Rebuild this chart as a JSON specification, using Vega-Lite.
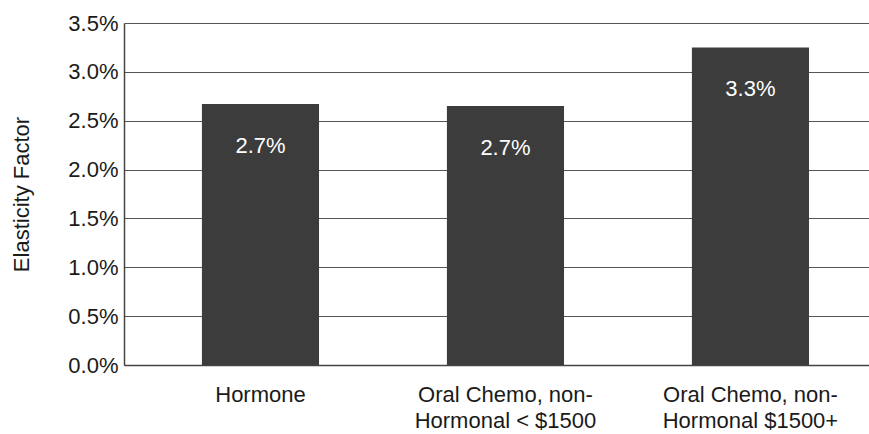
{
  "$schema": "https://vega.github.io/schema/vega-lite/v6.json",
  "width": 745,
  "height": 342,
  "autosize": {"type": "none"},
  "padding": {"left": 124, "top": 23, "right": 0, "bottom": 69},
  "background": "white",
  "config": {
    "view": {"stroke": null},
    "font": "Liberation Sans"
  },
  "data": {
    "values": [
      {"category": "Hormone", "value": 0.0267, "label": "2.7%"},
      {"category": "Oral Chemo, non-|Hormonal < $1500", "value": 0.0265, "label": "2.7%"},
      {"category": "Oral Chemo, non-|Hormonal $1500+", "value": 0.0325, "label": "3.3%"}
    ]
  },
  "encoding": {
    "x": {
      "field": "category",
      "type": "nominal",
      "sort": null,
      "scale": {"paddingInner": 0.522, "paddingOuter": 0.2815, "align": 0.565},
      "axis": {
        "title": null,
        "labelAngle": 0,
        "labelExpr": "split(datum.label, '|')",
        "labelFont": "Liberation Sans",
        "labelFontSize": 22,
        "labelColor": "#1a1a1a",
        "labelPadding": 19,
        "labelLineHeight": 26,
        "labelBaseline": "top",
        "ticks": false,
        "domain": true,
        "domainColor": "#444444",
        "domainWidth": 1.5,
        "labelLimit": 300
      }
    },
    "y": {
      "field": "value",
      "type": "quantitative",
      "scale": {"domain": [0, 0.035], "nice": false},
      "axis": {
        "title": "Elasticity Factor",
        "titleFont": "Liberation Sans",
        "titleFontSize": 22,
        "titleFontWeight": "normal",
        "titleColor": "#1a1a1a",
        "titleAngle": -90,
        "titleX": -103,
        "titleY": 171,
        "titleAlign": "center",
        "titleBaseline": "middle",
        "values": [0, 0.005, 0.01, 0.015, 0.02, 0.025, 0.03, 0.035],
        "format": ".1%",
        "labelFont": "Liberation Sans",
        "labelFontSize": 22,
        "labelColor": "#1a1a1a",
        "labelPadding": 6,
        "ticks": false,
        "domain": true,
        "domainColor": "#444444",
        "domainWidth": 1.5,
        "grid": true,
        "gridColor": "#555555",
        "gridWidth": 1.2
      }
    }
  },
  "layer": [
    {
      "mark": {"type": "bar", "color": "#3c3c3c"}
    },
    {
      "mark": {
        "type": "text",
        "color": "white",
        "font": "Liberation Sans",
        "fontSize": 22,
        "baseline": "middle",
        "align": "center",
        "dy": 42
      },
      "encoding": {"text": {"field": "label"}}
    }
  ]
}
